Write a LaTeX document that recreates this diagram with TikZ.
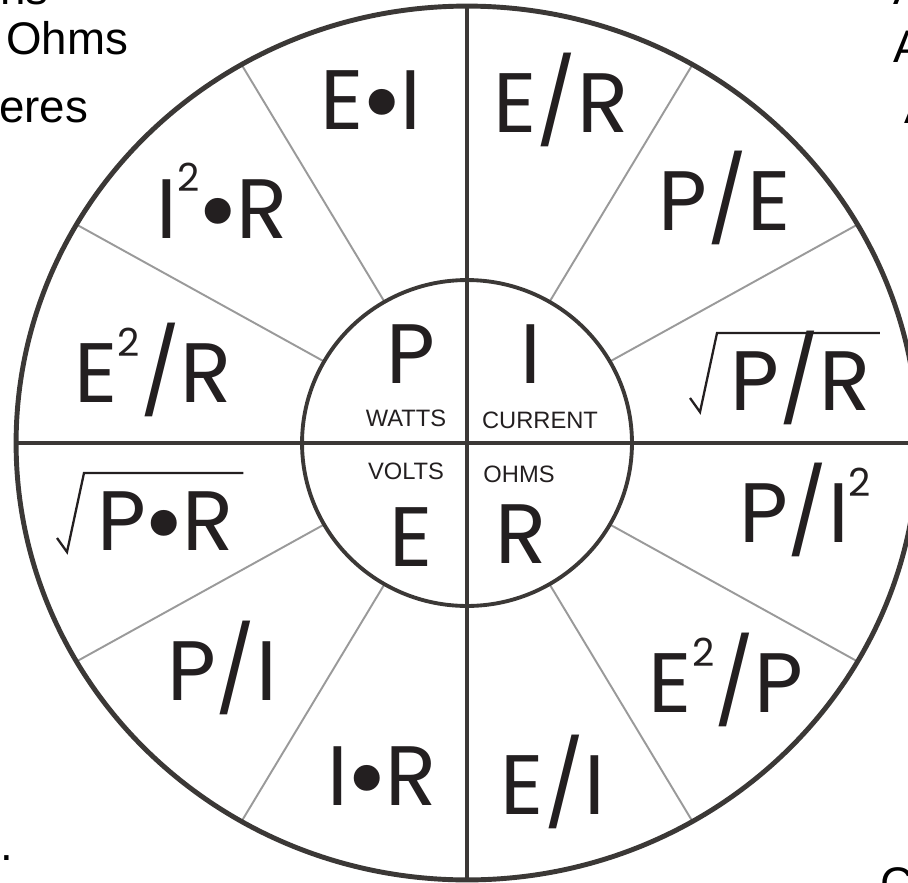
\documentclass[tikz,border=0pt]{standalone}
\usepackage{fontspec}
\setmainfont{Liberation Sans}
\newfontfamily\wheelfont{Poppins}
\usetikzlibrary{positioning, calc}
\definecolor{inkblack}{HTML}{231F20}
\definecolor{rimgray}{HTML}{3B3836}
\definecolor{spokegray}{HTML}{9A9A9A}
\newcommand{\sqd}{\raisebox{0.55em}{\fontsize{22}{22}\selectfont 2}}
\newcommand{\dotop}{\kern-0.04em\raisebox{-0.1em}{\scalebox{1.25}{•}}\kern-0.04em}

\begin{document}
\begin{tikzpicture}[
    x=0.02cm, y=-0.02cm,
    big/.style={text=inkblack, font=\wheelfont\fontsize{48}{48}\selectfont, inner sep=0pt},
    unit/.style={text=inkblack, font=\fontsize{13.5}{14}\selectfont, inner sep=0pt},
    frag/.style={text=black, font=\fontsize{26}{26}\selectfont, inner sep=0pt, anchor=base west},
    wheelrim/.style={draw=rimgray, line width=2.8pt},
    cross/.style={draw=rimgray, line width=2.2pt},
    spokeline/.style={draw=spokegray, line width=1.1pt},
    radical/.style={draw=inkblack, line width=1.3pt, line join=miter}
  ]
  \useasboundingbox (0,0) rectangle (908,882);
  \clip (0,0) rectangle (908,882);

  % wheel
  \coordinate (hub) at (467,443);
  \foreach \a in {30,60,120,150,210,240,300,330}
    \draw[spokeline] ({467+165*cos(\a)},{443-163*sin(\a)}) -- ({467+451*cos(\a)},{443-437*sin(\a)});
  \draw[cross] (467,6) -- (467,880);
  \draw[cross] (16,443) -- (918,443);
  \draw[wheelrim] (hub) ellipse [x radius=9.02cm, y radius=8.74cm];
  \draw[cross] (hub) ellipse [x radius=3.3cm, y radius=3.26cm];

  % outer formulas
  \node[big] (ei)   at (371,104) {E\dotop I};
  \node[big] (er)   at (561,100) {E/R};
  \node[big] (iir)  at (222,205) {I\sqd\dotop R};
  \node[big] (pe)   at (725,198) {P/E};
  \node[big] (eer)  at (153,370) {E\sqd/R};
  \node[big, anchor=base west] (rpr)  at (730,410) {P/R};
  \node[big, anchor=base west] (rpxr) at (97,550) {P\dotop R};
  \node[big] (pii)  at (805,510) {P/I\sqd};
  \node[big] (pi)   at (222,668) {P/I};
  \node[big] (eep)  at (726,680) {E\sqd/P};
  \node[big] (ir)   at (382,780) {I\dotop R};
  \node[big] (eoi)  at (553,782) {E/I};

  % root signs
  \foreach \t in {rpr, rpxr}
    \draw[radical] ($(\t.base west)+(-40,-12)$) -- ($(\t.base west)+(-30,2)$)
      -- ($(\t.base west)+(-13,-77)$) -- ($(\t.base east)+(9,-77)$);

  % hub letters
  \node[big] (p) at (411,354) {P};
  \node[big] (i) at (531,354) {I};
  \node[big] (e) at (411,537) {E};
  \node[big] (r) at (521,534) {R};
  \node[unit] (watts)   at (406,418) {WATTS};
  \node[unit] (current) at (540,420) {CURRENT};
  \node[unit] (volts)   at (406,471) {VOLTS};
  \node[unit] (ohms)    at (519,474) {OHMS};

  % cut-off text at the edges
  \node[frag] (f1) at (0,5) {ns};
  \node[frag] (f2) at (6,55) {Ohms};
  \node[frag] (f3) at (-1,122) {eres};
  \node[frag] (f4) at (893,5) {A};
  \node[frag] (f5) at (893,63) {A};
  \node[frag] (f6) at (904,123) {A};
  \node[frag] (f7) at (0,860) {.};
  \node[frag] (f8) at (880,899) {C};
\end{tikzpicture}
\end{document}
